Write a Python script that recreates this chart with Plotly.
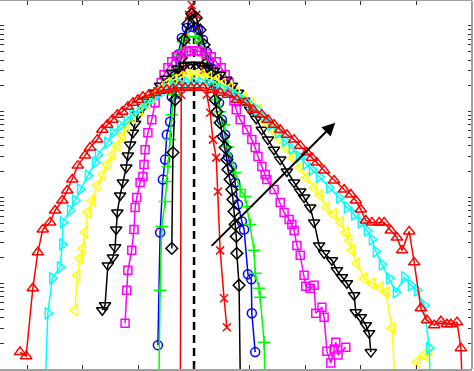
import plotly.graph_objects as go

# ---- data: x (tick units) and log10 of density ----
# a value of -5 marks a point far below the visible range (line runs off the bottom)
redx_x = [-0.25, -0.23, -0.20, -0.14, -0.09, -0.04, 0.04, 0.11, 0.18, 0.23, 0.29, 0.34, 0.40, 0.43, 0.47, 0.54, 0.59]
redx_lg = [-5, -0.803, -0.512, -0.163, 0.128, 0.244, 0.128, -0.163, -0.512, -0.803, -1.012, -1.326, -1.536, -1.931, -2.617, -3.175, -3.513]

blue_x = [-0.65, -0.61, -0.56, -0.52, -0.49, -0.43, -0.40, -0.34, -0.29, -0.22, -0.13, -0.02, 0.07, 0.16, 0.23,
          0.31, 0.38, 0.45, 0.50, 0.56, 0.61, 0.68, 0.74, 0.79, 0.86, 0.90, 0.97, 1.03, 1.04, 1.10]
blue_lg = [-3.722, -2.408, -1.791, -1.559, -1.268, -1.117, -0.826, -0.570, -0.338, -0.140, -0.024, -0.012, -0.047, -0.163, -0.303,
           -0.489, -0.687, -0.896, -1.094, -1.268, -1.524, -1.640, -1.826, -2.082, -2.280, -2.373, -2.896, -2.955, -3.350, -3.803]

green_x = [-0.65, -0.61, -0.58, -0.52, -0.49, -0.47, -0.43, -0.40, -0.36, -0.32, -0.27, -0.20, -0.11, 0.02, 0.11, 0.20, 0.27,
           0.34, 0.41, 0.47, 0.54, 0.61, 0.74, 0.83, 0.92, 0.95, 1.01, 1.08, 1.10, 1.17, 1.19, 1.26, 1.31]
green_lg = [-5, -3.082, -2.338, -2.047, -1.815, -1.640, -1.326, -1.035, -0.803, -0.570, -0.338, -0.186, -0.128, -0.128, -0.186,
            -0.338, -0.512, -0.687, -0.861, -1.001, -1.152, -1.408, -1.710, -1.908, -1.989, -2.105, -2.315, -2.617, -2.885,
            -3.059, -3.164, -3.687, -5]

diam_x = [-0.40, -0.38, -0.34, -0.29, -0.23, -0.18, -0.11, -0.04, 0.04, 0.11, 0.18, 0.25, 0.32, 0.38, 0.41, 0.47, 0.52,
          0.56, 0.59, 0.61, 0.65, 0.68, 0.70, 0.72, 0.74, 0.76, 0.77, 0.81, 0.85]
diam_lg = [-2.594, -1.477, -0.861, -0.605, -0.373, -0.163, 0.023, 0.139, 0.093, -0.047, -0.221, -0.419, -0.652, -0.861,
           -1.001, -1.128, -1.291, -1.419, -1.559, -1.675, -1.791, -1.908, -2.024, -2.164, -2.315, -2.455, -2.652, -3.024, -5]

mag_x = [-1.24, -1.21, -1.19, -1.12, -1.08, -1.06, -1.03, -0.97, -0.92, -0.90, -0.88, -0.83, -0.76, -0.70, -0.65, -0.59,
         -0.54, -0.47, -0.40, -0.32, -0.23, -0.14, -0.05, 0.04, 0.13, 0.22, 0.31, 0.40, 0.49, 0.56, 0.63, 0.68, 0.72, 0.76,
         0.83, 0.95, 1.04, 1.10, 1.15, 1.22, 1.28, 1.31, 1.44, 1.55, 1.62, 1.71, 1.76, 1.80, 1.85, 1.91, 1.98, 2.01, 2.09,
         2.16, 2.19, 2.30, 2.34, 2.39, 2.46, 2.52, 2.55, 2.59, 2.73]
mag_lg = [-3.466, -3.082, -2.850, -2.617, -2.373, -2.117, -2.001, -1.826, -1.757, -1.617, -1.443, -1.245, -1.094, -0.896,
          -0.768, -0.663, -0.570, -0.489, -0.419, -0.361, -0.326, -0.303, -0.291, -0.291, -0.303, -0.326, -0.361, -0.419,
          -0.489, -0.570, -0.663, -0.768, -0.873, -0.977, -1.094, -1.210, -1.326, -1.419, -1.524, -1.640, -1.733, -1.791,
          -1.908, -2.059, -2.175, -2.257, -2.315, -2.385, -2.559, -2.675, -2.908, -3.036, -3.059, -3.024, -3.350, -3.280,
          -3.396, -3.792, -3.931, -3.768, -3.687, -3.838, -3.745]

tdown_x = [-1.65, -1.60, -1.55, -1.46, -1.42, -1.40, -1.38, -1.33, -1.28, -1.22, -1.19, -1.15, -1.10, -1.06, -1.01, -0.92,
           -0.83, -0.72, -0.61, -0.50, -0.40, -0.29, -0.18, -0.07, 0.04, 0.14, 0.25, 0.36, 0.47, 0.58, 0.68, 0.79, 0.90,
           1.01, 1.12, 1.22, 1.33, 1.44, 1.55, 1.67, 1.80, 1.91, 1.98, 2.09, 2.16, 2.25, 2.34, 2.48, 2.57, 2.66, 2.75, 2.88,
           2.91, 3.00, 3.09, 3.15, 3.18]
tdown_lg = [-3.315, -3.257, -2.792, -2.699, -2.582, -2.373, -2.175, -1.977, -1.826, -1.652, -1.512, -1.384, -1.245, -1.140,
            -1.035, -0.942, -0.861, -0.780, -0.698, -0.617, -0.547, -0.500, -0.466, -0.454, -0.454, -0.466, -0.489, -0.524,
            -0.570, -0.628, -0.698, -0.780, -0.873, -0.977, -1.082, -1.210, -1.326, -1.443, -1.559, -1.698, -1.826, -1.931,
            -2.001, -2.117, -2.291, -2.559, -2.652, -2.733, -2.850, -2.931, -3.001, -3.140, -3.338, -3.396, -3.489, -3.582,
            -3.803]

yel_x = [-2.14, -2.10, -2.05, -2.00, -1.96, -1.91, -1.83, -1.74, -1.64, -1.56, -1.46, -1.38, -1.29, -1.21, -1.10, -0.97,
         -0.85, -0.74, -0.61, -0.49, -0.36, -0.23, -0.11, 0.02, 0.14, 0.27, 0.40, 0.52, 0.65, 0.77, 0.90, 1.03, 1.15, 1.28,
         1.40, 1.53, 1.65, 1.78, 1.91, 2.03, 2.16, 2.27, 2.39, 2.52, 2.64, 2.73, 2.79, 2.84, 2.93, 3.06, 3.20, 3.36, 3.45,
         3.56, 3.69, 4.01, 4.14, 4.23, 4.30]
yel_lg = [-3.315, -2.908, -2.710, -2.594, -2.408, -2.175, -2.036, -1.861, -1.733, -1.617, -1.501, -1.396, -1.280, -1.163,
          -1.070, -0.989, -0.908, -0.826, -0.745, -0.675, -0.628, -0.594, -0.570, -0.570, -0.570, -0.594, -0.628, -0.675,
          -0.721, -0.780, -0.838, -0.908, -0.977, -1.117, -1.210, -1.315, -1.419, -1.536, -1.652, -1.768, -1.884, -1.977,
          -2.117, -2.198, -2.291, -2.408, -2.501, -2.617, -2.768, -2.943, -3.001, -3.047, -3.106, -3.524, -5, -3.920,
          -3.838, -3.780, -5]

cyan_x = [-2.72, -2.63, -2.55, -2.41, -2.37, -2.36, -2.23, -2.14, -2.05, -1.91, -1.78, -1.73, -1.56, -1.46, -1.33, -1.21,
          -1.10, -0.97, -0.85, -0.74, -0.61, -0.49, -0.38, -0.25, -0.13, 0.00, 0.13, 0.25, 0.38, 0.50, 0.63, 0.76, 0.88,
          1.01, 1.13, 1.26, 1.38, 1.51, 1.64, 1.76, 1.89, 2.01, 2.12, 2.25, 2.43, 2.61, 2.75, 2.88, 3.00, 3.11, 3.20, 3.27,
          3.38, 3.51, 3.63, 3.78, 3.90, 4.01, 4.14, 4.23, 4.28]
cyan_lg = [-5, -3.350, -2.943, -2.815, -2.547, -2.291, -2.152, -2.036, -1.908, -1.745, -1.594, -1.501, -1.361, -1.245,
           -1.163, -1.094, -1.024, -0.954, -0.896, -0.838, -0.780, -0.733, -0.698, -0.675, -0.663, -0.663, -0.663, -0.675,
           -0.698, -0.733, -0.768, -0.814, -0.861, -0.919, -0.977, -1.070, -1.152, -1.245, -1.338, -1.431, -1.524, -1.605,
           -1.675, -1.757, -1.884, -2.001, -2.117, -2.198, -2.291, -2.385, -2.490, -2.629, -2.780, -2.943, -3.106, -2.931,
           -3.024, -3.082, -3.257, -3.757, -5]

tup_x = [-3.13, -3.02, -2.90, -2.81, -2.72, -2.59, -2.50, -2.37, -2.28, -2.19, -2.09, -1.96, -1.87, -1.74, -1.65, -1.56,
         -1.47, -1.38, -1.29, -1.19, -1.10, -1.01, -0.92, -0.81, -0.70, -0.59, -0.49, -0.38, -0.27, -0.16, -0.05, 0.05,
         0.16, 0.32, 0.47, 0.61, 0.77, 0.92, 1.06, 1.22, 1.33, 1.44, 1.55, 1.67, 1.80, 1.91, 2.03, 2.12, 2.21, 2.34, 2.52,
         2.70, 2.82, 2.91, 3.00, 3.09, 3.20, 3.33, 3.42, 3.54, 3.65, 3.74, 3.87, 3.96, 4.08, 4.19, 4.32, 4.44, 4.55, 4.62,
         4.73, 4.80, 4.87]
tup_lg = [-3.803, -3.850, -3.059, -2.640, -2.373, -2.291, -2.152, -2.036, -1.919, -1.791, -1.629, -1.512, -1.419, -1.326,
          -1.210, -1.152, -1.094, -1.035, -1.001, -0.942, -0.896, -0.861, -0.826, -0.803, -0.780, -0.756, -0.745, -0.733,
          -0.721, -0.721, -0.721, -0.721, -0.721, -0.745, -0.780, -0.803, -0.861, -0.896, -0.977, -1.035, -1.094, -1.152,
          -1.210, -1.268, -1.326, -1.396, -1.477, -1.536, -1.594, -1.687, -1.803, -1.908, -1.966, -2.036, -2.140, -2.268,
          -2.291, -2.291, -2.291, -2.385, -2.467, -2.617, -2.396, -2.757, -3.292, -3.431, -3.489, -3.443, -3.478, -3.478,
          -3.454, -3.757, -5]

# arrow (data coords: x, log10 y) and reference line position
arrow_tail = (0.29, -2.582)
arrow_head = (2.54, -1.128)
ref_line_x = 0.0

series = [
    (redx_x, redx_lg, "#ff0000", "x-thin-open", 8),
    (blue_x, blue_lg, "#0000ff", "circle-open", 9),
    (green_x, green_lg, "#00ff00", "cross-thin-open", 9),
    (diam_x, diam_lg, "#000000", "diamond-open", 9),
    (mag_x, mag_lg, "#ff00ff", "square-open", 8),
    (tdown_x, tdown_lg, "#000000", "triangle-down-open", 10),
    (yel_x, yel_lg, "#ffff00", "triangle-left-open", 10),
    (cyan_x, cyan_lg, "#00ffff", "triangle-right-open", 10),
    (tup_x, tup_lg, "#ff0000", "triangle-up-open", 10),
]

fig = go.Figure()
for xs, lgs, col, sym, sz in series:
    fig.add_trace(go.Scatter(
        x=xs, y=[10 ** v for v in lgs], mode="lines+markers",
        line=dict(color=col, width=1.5),
        marker=dict(symbol=sym, size=sz, color=col, line=dict(color=col, width=1.5)),
        showlegend=False, cliponaxis=True))

fig.add_shape(type="line", xref="x", yref="paper", x0=ref_line_x, x1=ref_line_x, y0=0, y1=1,
              line=dict(color="black", width=2.5, dash="8px,5px"), layer="below")
fig.add_shape(type="line", xref="paper", yref="paper", x0=1, x1=1, y0=0, y1=1,
              line=dict(color="#a0a0a0", width=2))

fig.add_annotation(x=arrow_head[0], y=arrow_head[1], ax=arrow_tail[0], ay=arrow_tail[1],
                   xref="x", yref="y", axref="x", ayref="y", text="", showarrow=True,
                   arrowhead=2, arrowsize=1.3, arrowwidth=2, arrowcolor="black")

fig.update_layout(
    width=474, height=371, margin=dict(l=0, r=2, t=1, b=2),
    paper_bgcolor="white", plot_bgcolor="white",
    xaxis=dict(range=[-3.49, 5.0], dtick=1, tick0=0, ticks="inside", ticklen=4, tickcolor="#333333",
               showticklabels=False, showgrid=False, zeroline=False, showline=True, linecolor="#a0a0a0",
               linewidth=2, mirror="ticks"),
    yaxis=dict(type="log", range=[-4, 0.29], dtick="D1", ticks="inside", ticklen=4, tickcolor="#333333",
               showticklabels=False, showgrid=False, zeroline=False, showline=False, mirror="ticks"),
)
fig.write_html("out.html")
